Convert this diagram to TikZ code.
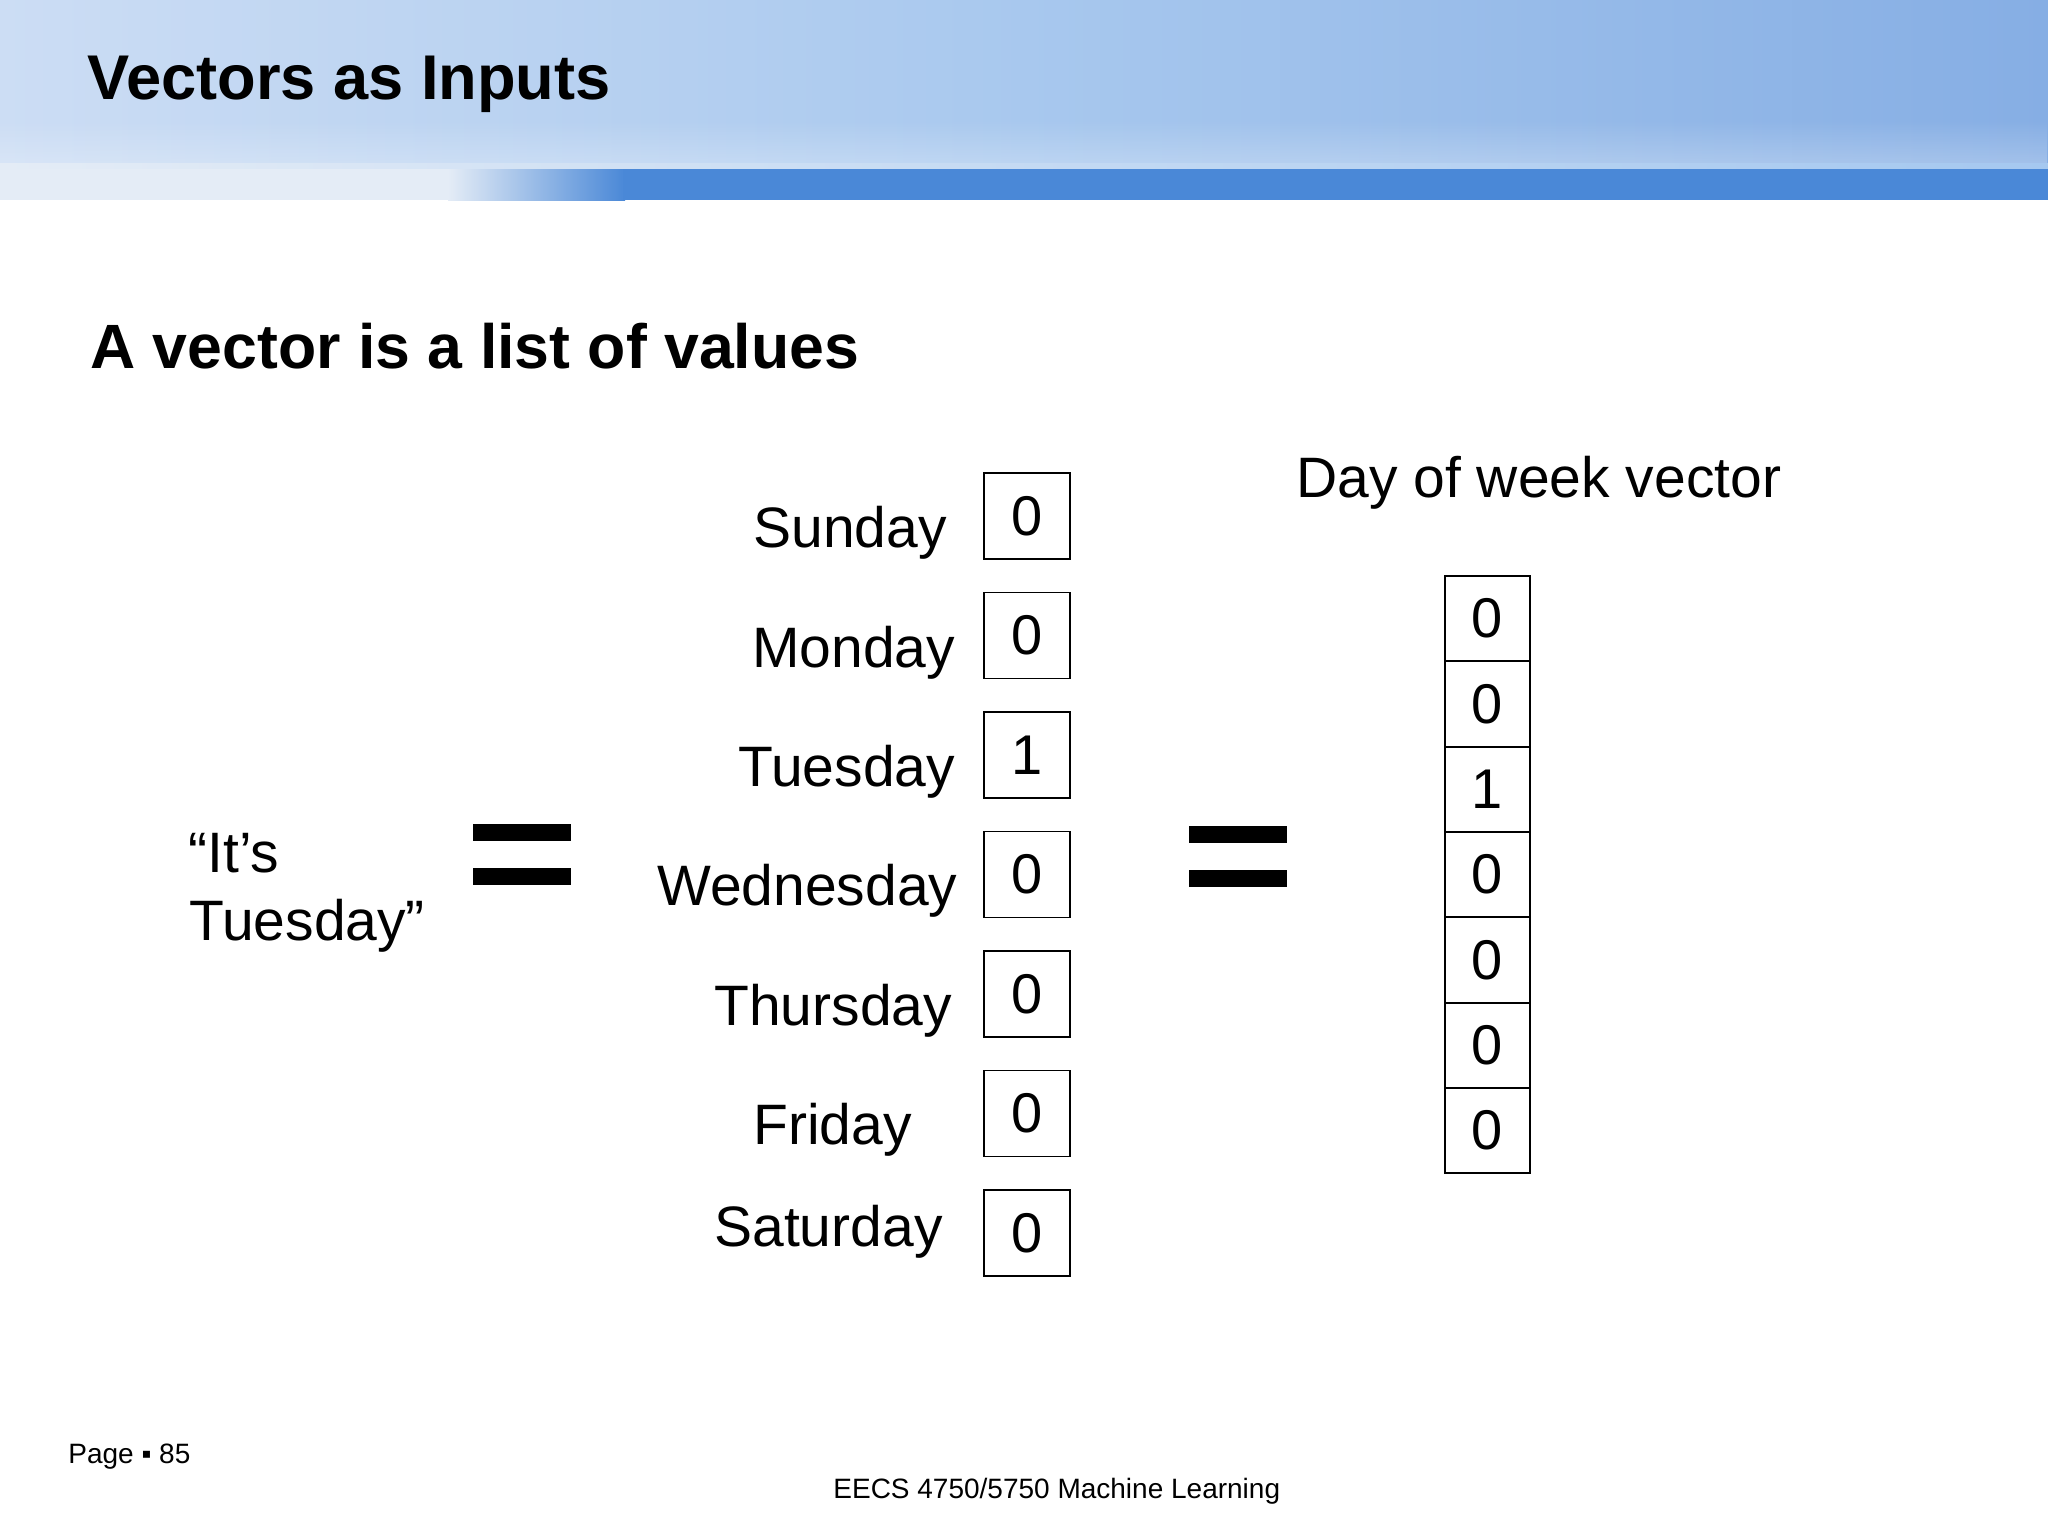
\documentclass[tikz,border=0pt]{standalone}
\usepackage{fontspec}
\setmainfont{Liberation Sans}
\usetikzlibrary{fadings}
\definecolor{hdrL}{RGB}{204,221,244}
\definecolor{hdrM}{RGB}{168,200,238}
\definecolor{hdrR}{RGB}{134,174,228}
\definecolor{bandL}{RGB}{228,236,246}
\definecolor{bandB}{RGB}{74,136,215}
\definecolor{bandHi}{RGB}{165,200,240}
\tikzset{
  lbl/.style={anchor=base west, inner sep=0pt, font=\fontsize{28.5}{34}\selectfont},
  ttl/.style={anchor=base west, inner sep=0pt, font=\fontsize{31.3}{38}\selectfont\bfseries},
  cell/.style={draw, line width=0.9pt, minimum width=43pt, minimum height=43pt, inner sep=0pt, font=\fontsize{28}{34}\selectfont},
  vcell/.style={draw, line width=0.9pt, minimum width=42.5pt, minimum height=42.65pt, inner sep=0pt, font=\fontsize{28}{34}\selectfont},
  foot/.style={anchor=base west, inner sep=0pt, font=\fontsize{14}{17}\selectfont}
}
\begin{document}
\begin{tikzpicture}[x=0.5pt,y=-0.5pt]
\useasboundingbox (0,0) rectangle (2048,1536);
\fill[white] (0,0) rectangle (2048,1536);
% header
\shade[left color=hdrL, right color=hdrM] (0,0) rectangle (1025,166);
\shade[left color=hdrM, right color=hdrR] (1024,0) rectangle (2048,166);
\fill[white, opacity=0.25, path fading=north] (0,120) rectangle (2048,166);
\fill[bandL] (0,166) rectangle (450,200);
\shade[left color=bandL, right color=bandB] (448,166) rectangle (625,200);
\fill[bandB] (623,166) rectangle (2048,200);
\shade[left color=bandL, right color=bandHi] (0,163) rectangle (2048,168);
% titles
\node[ttl, font=\fontsize{31.6}{38}\selectfont\bfseries] (title) at (87,99) {Vectors as Inputs};
\node[ttl] (sub) at (90,368) {A vector is a list of values};
% left quote
\node[lbl] (q1) at (188,872) {“It’s};
\node[lbl] (q2) at (189,940) {Tuesday”};
% equals signs
\fill (473,824) rectangle (571,841);
\fill (473,868) rectangle (571,885);
\fill (1189,826) rectangle (1287,843);
\fill (1189,870) rectangle (1287,887);
% day labels
\node[lbl] (lsun) at (753,547) {Sunday};
\node[lbl] (lmon) at (752,667) {Monday};
\node[lbl] (ltue) at (738,786) {Tuesday};
\node[lbl] (lwed) at (657,905) {Wednesday};
\node[lbl] (lthu) at (714,1025) {Thursday};
\node[lbl] (lfri) at (753,1144) {Friday};
\node[lbl] (lsat) at (714,1246) {Saturday};
% day boxes
\node[cell] (bsun) at (1027,516) {0};
\node[cell] (bmon) at (1027,635.5) {0};
\node[cell] (btue) at (1027,755) {1};
\node[cell] (bwed) at (1027,874.5) {0};
\node[cell] (bthu) at (1027,994) {0};
\node[cell] (bfri) at (1027,1113.5) {0};
\node[cell] (bsat) at (1027,1233) {0};
% vector
\node[lbl] (vtitle) at (1296,497) {Day of week vector};
\node[vcell] (v1) at (1487.5,618.7) {0};
\node[vcell] (v2) at (1487.5,704) {0};
\node[vcell] (v3) at (1487.5,789.3) {1};
\node[vcell] (v4) at (1487.5,874.6) {0};
\node[vcell] (v5) at (1487.5,960) {0};
\node[vcell] (v6) at (1487.5,1045.3) {0};
\node[vcell] (v7) at (1487.5,1130.6) {0};
% footer
\node[foot] (page) at (68,1463) {Page ▪ 85};
\node[foot] (course) at (833,1498) {EECS 4750/5750 Machine Learning};
\end{tikzpicture}
\end{document}
